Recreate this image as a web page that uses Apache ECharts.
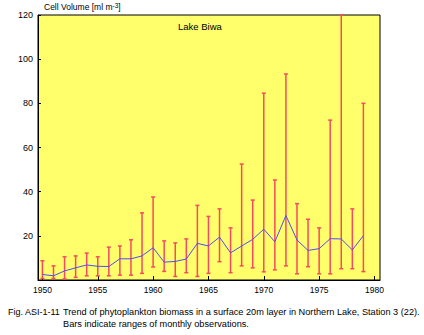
<!DOCTYPE html>
<html>
<head>
<meta charset="utf-8">
<script src="https://cdn.jsdelivr.net/npm/echarts@6/dist/echarts.min.js"></script>
<style>
html,body{margin:0;padding:0;background:#ffffff;}
#chart{width:424px;height:335px;}
</style>
</head>
<body>
<div id="chart"></div>
<script>
const years = [1950,1951,1952,1953,1954,1955,1956,1957,1958,1959,1960,1961,1962,1963,1964,1965,1966,1967,1968,1969,1970,1971,1972,1973,1974,1975,1976,1977,1978,1979];
const means = [2.5,1.9,4.1,5.5,6.8,6.2,6.1,9.6,9.6,10.9,14.6,8.1,8.4,9.5,16.6,15.4,19.4,12.3,15.4,18.4,23.0,17.3,29.2,18.1,13.4,14.2,18.7,18.6,13.6,20.1];
const mins = [0.7,0.7,0.5,1.2,1.9,1.9,1.9,2.2,2.2,3.0,5.9,3.9,1.6,3.3,1.6,3.0,8.3,3.3,6.4,5.5,3.7,4.6,6.4,2.8,6.0,2.8,2.8,5.1,5.1,3.8];
const maxs = [8.7,6.4,10.5,10.9,12.2,10.5,14.9,15.4,18.2,30.4,37.6,17.7,16.8,18.6,33.8,28.8,32.2,23.6,52.5,36.2,84.6,45.3,93.3,34.6,27.5,23.6,72.4,120,32.2,80];
const xTicks = [1950,1955,1960,1965,1970,1975,1980];
const yTicks = [20,40,60,80,100,120];

const FONT = "'Liberation Sans', Arial, sans-serif";
const chart = echarts.init(document.getElementById('chart'), null, {renderer: 'svg'});

chart.setOption({
  backgroundColor: '#ffffff',
  animation: false,
  grid: {
    left: 38, top: 15, right: 44, bottom: 55,
    show: true, backgroundColor: '#ffff6c', borderColor: '#000000', borderWidth: 1
  },
  xAxis: {
    type: 'value', min: 1949.6, max: 1980.5,
    splitLine: {show: false},
    axisLine: {show: true, lineStyle: {color: '#000', width: 1}},
    axisTick: {show: true, inside: true, length: 4, customValues: xTicks, lineStyle: {color: '#000'}},
    axisLabel: {customValues: xTicks, fontSize: 8.5, fontFamily: FONT, color: '#000', margin: 5,
      formatter: v => String(v)}
  },
  yAxis: {
    type: 'value', min: 0, max: 120, interval: 20,
    splitLine: {show: false},
    axisLine: {show: true, lineStyle: {color: '#000', width: 1}},
    axisTick: {show: true, inside: true, length: 3, lineStyle: {color: '#000'}},
    axisLabel: {fontSize: 9, fontFamily: FONT, color: '#000', margin: 5,
      formatter: v => (yTicks.indexOf(v) >= 0 ? String(v) : '')}
  },
  graphic: [
    {type: 'text', left: 44, top: 2, style: {
      text: '{a|Cell Volume [ml m}{s|-3}{a|]}', fill: '#000',
      rich: {a: {fontSize: 8.5, fontFamily: FONT, fill: '#000', verticalAlign: 'bottom'},
             s: {fontSize: 6.5, fontFamily: FONT, fill: '#000', verticalAlign: 'top'}}
    }},
    {type: 'text', left: 178, top: 21, style: {text: 'Lake Biwa', fontSize: 9.5, fontFamily: FONT, fill: '#000'}},
    {type: 'text', left: 8, top: 307, style: {text: 'Fig. ASI-1-11', fontSize: 9, fontFamily: FONT, fill: '#000'}},
    {type: 'text', left: 63, top: 307, style: {text: 'Trend of phytoplankton biomass in a surface 20m layer in Northern Lake, Station 3 (22).', fontSize: 9.2, fontFamily: FONT, fill: '#000'}},
    {type: 'text', left: 63, top: 319, style: {text: 'Bars indicate ranges of monthly observations.', fontSize: 9.2, fontFamily: FONT, fill: '#000'}}
  ],
  series: [
    {
      type: 'custom',
      data: years.map((y, i) => [y, mins[i], maxs[i]]),
      renderItem: function (params, api) {
        const x = api.value(0);
        const lo = api.coord([x, api.value(1)]);
        const hi = api.coord([x, api.value(2)]);
        const hw = 2;
        const st = {stroke: '#f64a60', lineWidth: 1.5};
        return {
          type: 'group',
          children: [
            {type: 'line', shape: {x1: lo[0], y1: lo[1], x2: hi[0], y2: hi[1]}, style: st},
            {type: 'line', shape: {x1: hi[0] - hw, y1: hi[1], x2: hi[0] + hw, y2: hi[1]}, style: st},
            {type: 'line', shape: {x1: lo[0] - hw, y1: lo[1], x2: lo[0] + hw, y2: lo[1]}, style: st}
          ]
        };
      },
      z: 2
    },
    {
      type: 'line',
      data: years.map((y, i) => [y, means[i]]),
      showSymbol: false,
      lineStyle: {color: '#4b4bff', width: 1},
      itemStyle: {color: '#4b4bff'},
      z: 3
    }
  ]
});
</script>
</body>
</html>
